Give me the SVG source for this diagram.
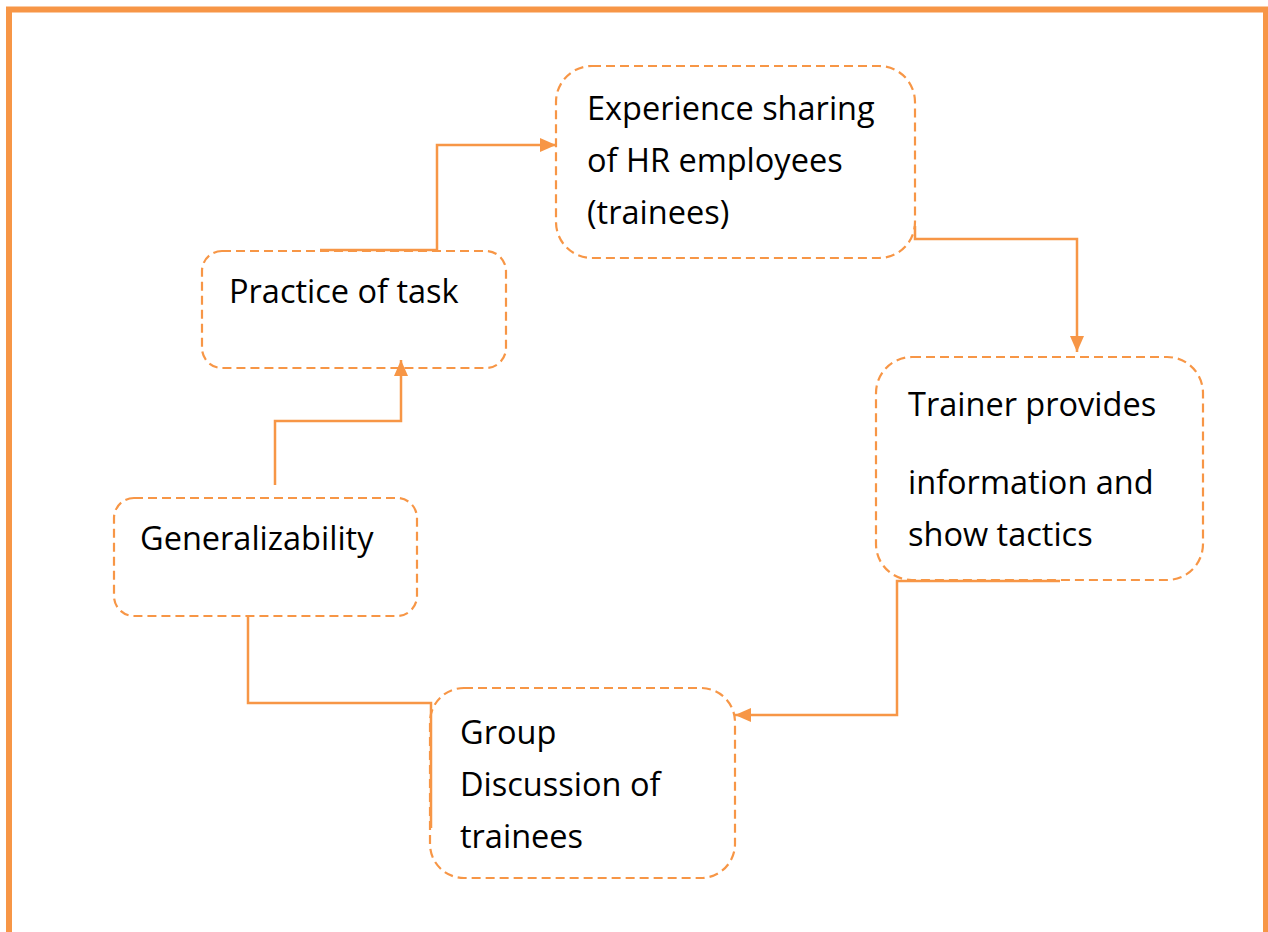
<svg xmlns="http://www.w3.org/2000/svg" width="1268" height="932" viewBox="0 0 1268 932">
<style>
.box{fill:none;stroke:#F79646;stroke-width:2.2;stroke-dasharray:9 5}
.lbl{font-family:"Open Sans","Noto Sans",sans-serif;font-size:32.5px;fill:#000}
.conn{fill:none;stroke:#F79646;stroke-width:2.5}
</style>
<defs>
<marker id="arr" viewBox="0 0 16 14" refX="16" refY="7" markerWidth="16" markerHeight="14" markerUnits="userSpaceOnUse" orient="auto">
<path d="M0,0 L16,7 L0,14 Z" fill="#F79646"/>
</marker>
</defs>
<rect x="0" y="0" width="1268" height="932" fill="#fff"/>
<rect x="9" y="9.5" width="1257" height="1000" fill="none" stroke="#F79646" stroke-width="6"/>
<g id="n1">
<rect class="box" x="556" y="66" width="359" height="192" rx="36"/>
<text class="lbl" x="587" y="120">Experience sharing</text>
<text class="lbl" x="587" y="172">of HR employees</text>
<text class="lbl" x="587" y="224">(trainees)</text>
</g>
<g id="n2">
<rect class="box" x="876" y="357" width="327" height="223" rx="36"/>
<text class="lbl" x="908" y="416">Trainer provides</text>
<text class="lbl" x="908" y="494">information and</text>
<text class="lbl" x="908" y="546">show tactics</text>
</g>
<g id="n3">
<rect class="box" x="430" y="688" width="305" height="190" rx="34"/>
<text class="lbl" x="460" y="744">Group</text>
<text class="lbl" x="460" y="796">Discussion of</text>
<text class="lbl" x="460" y="848">trainees</text>
</g>
<g id="n4">
<rect class="box" x="114" y="498" width="303" height="118" rx="20"/>
<text class="lbl" x="140" y="550">Generalizability</text>
</g>
<g id="n5">
<rect class="box" x="202" y="251" width="304" height="117" rx="20"/>
<text class="lbl" x="229" y="303">Practice of task</text>
</g>
<g id="connectors">
<path class="conn" d="M320,250 H437 V145 H556" marker-end="url(#arr)"/>
<path class="conn" d="M915,226 V239 H1077 V352" marker-end="url(#arr)"/>
<path class="conn" d="M1060,581 H897 V715 H735" marker-end="url(#arr)"/>
<path class="conn" d="M431,828 V703 H248 V616"/>
<path class="conn" d="M275,485 V421 H401 V360" marker-end="url(#arr)"/>
</g>
</svg>
